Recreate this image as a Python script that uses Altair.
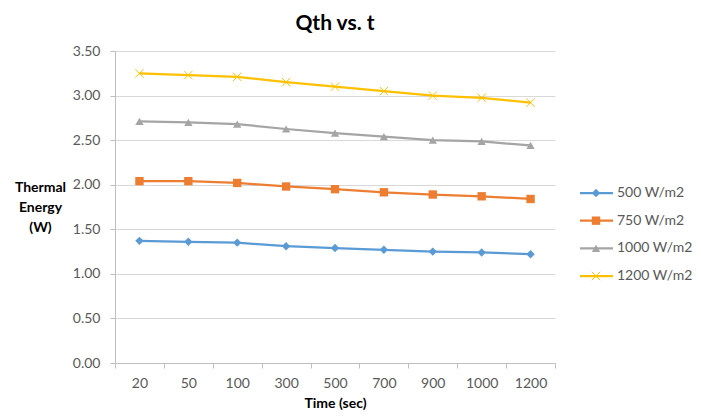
import altair as alt
import pandas as pd

times = ["20", "50", "100", "300", "500", "700", "900", "1000", "1200"]
series = ["500 W/m2", "750 W/m2", "1000 W/m2", "1200 W/m2"]
q500 = [1.37, 1.36, 1.35, 1.31, 1.29, 1.27, 1.25, 1.24, 1.22]
q750 = [2.04, 2.04, 2.02, 1.98, 1.95, 1.915, 1.89, 1.87, 1.84]
q1000 = [2.71, 2.70, 2.68, 2.625, 2.58, 2.54, 2.50, 2.485, 2.44]
q1200 = [3.25, 3.23, 3.21, 3.15, 3.10, 3.05, 3.00, 2.975, 2.92]
yticks = [0, 0.5, 1.0, 1.5, 2.0, 2.5, 3.0, 3.5]

colors = ["#5B9BD5", "#ED7D31", "#A5A5A5", "#FFC000"]
shapes = ["diamond", "square", "triangle-up", "M-1,-1L1,1M-1,1L1,-1"]

rows = []
for s, vals in zip(series, [q500, q750, q1000, q1200]):
    for t, v in zip(times, vals):
        rows.append({"series": s, "time": t, "q": v})
df = pd.DataFrame(rows)
leg = pd.DataFrame({"series": series})

FONT = "Lato"

color = alt.Color("series:N", scale=alt.Scale(domain=series, range=colors), legend=None)
shape = alt.Shape("series:N", scale=alt.Scale(domain=series, range=shapes), legend=None)

x = alt.X("time:N", sort=times,
          scale=alt.Scale(type="band", paddingInner=0, paddingOuter=0),
          axis=alt.Axis(title="Time (sec)", labelAngle=0, tickBand="extent", grid=False,
                        domainColor="#BFBFBF", tickColor="#BFBFBF", tickSize=5,
                        labelColor="#595959", labelFontSize=14, labelFont=FONT, labelPadding=8,
                        titleFont=FONT, titleFontSize=14, titleFontWeight="bold",
                        titleColor="#000000", titlePadding=6))
y = alt.Y("q:Q", scale=alt.Scale(domain=[0, 3.5], nice=False),
          axis=alt.Axis(values=yticks, format=".2f", grid=True, gridColor="#D9D9D9",
                        domainColor="#BFBFBF", tickColor="#BFBFBF", tickSize=5,
                        labelColor="#595959", labelFontSize=14, labelFont=FONT, labelPadding=10,
                        title=["Thermal", "Energy", "(W)"], titleAngle=0, titleAlign="center",
                        titleBaseline="top", titleX=-75, titleY=129, titleLineHeight=20,
                        titleFont=FONT, titleFontSize=14, titleFontWeight="bold",
                        titleColor="#000000"))

lines = alt.Chart(df).mark_line(strokeWidth=2.25).encode(x=x, y=y, color=color)
pts = alt.Chart(df).transform_filter(alt.datum.series != "1200 W/m2").mark_point(
    filled=True, opacity=1, size=70).encode(x=x, y=y, color=color, shape=shape)
xs = alt.Chart(df).transform_filter(alt.datum.series == "1200 W/m2").mark_point(
    filled=False, opacity=1, size=70, strokeWidth=1).encode(x=x, y=y, color=color, shape=shape)

main = alt.layer(lines, pts, xs)

ly = alt.Y("series:N", sort=series,
           scale=alt.Scale(type="point", domain=series, range=[142, 225], padding=0), axis=None)
leg_lines = alt.Chart(leg).mark_rule(strokeWidth=2.25).encode(
    x=alt.value(465), x2=alt.value(498), y=ly, color=color)
leg_pts = alt.Chart(leg).transform_filter(alt.datum.series != "1200 W/m2").mark_point(
    filled=True, opacity=1, size=70).encode(x=alt.value(481), y=ly, color=color, shape=shape)
leg_xs = alt.Chart(leg).transform_filter(alt.datum.series == "1200 W/m2").mark_point(
    filled=False, opacity=1, size=70, strokeWidth=1).encode(x=alt.value(481), y=ly, color=color, shape=shape)
leg_text = alt.Chart(leg).mark_text(align="left", baseline="middle", fontSize=14, font=FONT,
                                    color="#595959").encode(x=alt.value(502), y=ly, text="series:N")
legend = alt.layer(leg_lines, leg_pts, leg_xs, leg_text)

chart = alt.layer(main, legend).resolve_scale(y="independent").properties(
    width=440, height=312,
    autosize=alt.AutoSizeParams(type="none"),
    padding={"left": 107, "top": 43, "right": 138, "bottom": 47},
    title=alt.TitleParams("Qth vs. t", fontSize=21, fontWeight="bold", font=FONT,
                          anchor="middle", offset=10, color="#000000"),
).configure_view(stroke=None)

chart.save("out.html", embed_options={"renderer": "svg", "actions": False})
